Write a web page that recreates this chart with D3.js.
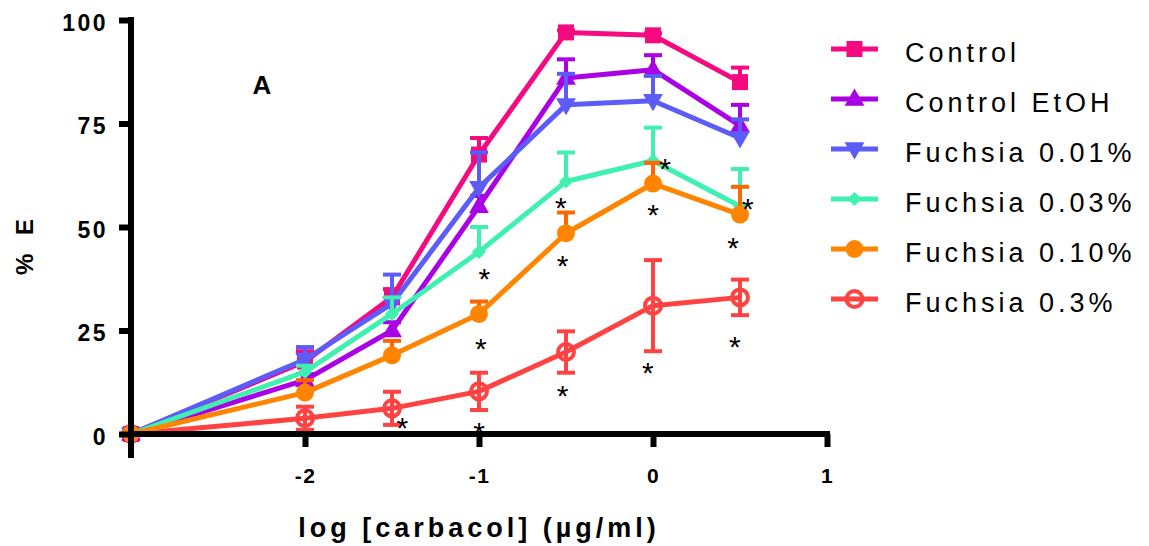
<!DOCTYPE html>
<html>
<head>
<meta charset="utf-8">
<title>Carbacol response</title>
<script src="https://cdn.jsdelivr.net/npm/d3@7"></script>
<style>
  body { margin: 0; background: #fff; }
  svg text { font-family: "Liberation Sans", Arial, sans-serif; }
</style>
</head>
<body>
<div id="chart"></div>
<script>
// x values are log [carbacol]
var doses = [-3, -2, -1.5, -1, -0.5, 0, 0.5];

var seriesNames = ["Control", "Control EtOH", "Fuchsia 0.01%", "Fuchsia 0.03%", "Fuchsia 0.10%", "Fuchsia 0.3%"];

var controlMean   = [0, 17.5, 33, 67.5, 97, 96.3, 85];
var controlErr    = [0, 2.5, 2, 4, 0.5, 0.5, 3.5];
var etohMean      = [0, 13, 25, 55, 86, 88, 74.5];
var etohErr       = [0, 1.5, 2, 2.5, 4.5, 3.5, 5];
var f001Mean      = [0, 18, 31.5, 59.5, 79.5, 80.5, 71.5];
var f001Err       = [0, 3, 7, 8.5, 7.5, 6, 4.5];
var f003Mean      = [0, 15, 29, 44, 61, 66, 55];
var f003Err       = [0, 1.5, 4, 6, 7, 8, 9];
var f010Mean      = [0, 10, 19, 29, 48.5, 60.5, 53];
var f010Err       = [0, 3, 3.5, 3, 5, 5, 6.7];
var f03Mean       = [0, 3.8, 6.2, 10.3, 19.8, 31, 33];
var f03Err        = [0, 2.8, 4, 4.5, 5, 11, 4.3];

var yTicks = [0, 25, 50, 75, 100];
var xTicks = [-2, -1, 0, 1];

// significance marks (x in log units, y in %E)
var starX = [-1.44, -1.0, -0.99, -0.97, -0.53, -0.52, -0.52, 0.07, 0.0, -0.03, 0.545, 0.46, 0.47];
var starY = [2.4, 1.3, 21.5, 38.4, 55.6, 41.5, 10.1, 65, 53.9, 15.7, 55.3, 46, 22];

var width = 1149, height = 546;

var x = d3.scaleLinear().domain([-3, 1]).range([131, 827]);
var y = d3.scaleLinear().domain([0, 100]).range([434, 20]);

var series = [
  { name: seriesNames[0], mean: controlMean, err: controlErr, color: "#f50a80", errColor: "#f50a80", shape: "square", both: false },
  { name: seriesNames[1], mean: etohMean, err: etohErr, color: "#aa00e6", errColor: "#aa00e6", shape: "up", both: false },
  { name: seriesNames[2], mean: f001Mean, err: f001Err, color: "#5c5cf8", errColor: "#5c5cf8", shape: "down", both: false },
  { name: seriesNames[3], mean: f003Mean, err: f003Err, color: "#40f0b0", errColor: "#40f0b0", shape: "diamond", both: false },
  { name: seriesNames[4], mean: f010Mean, err: f010Err, color: "#ff8500", errColor: "#ff6500", shape: "circle", both: false },
  { name: seriesNames[5], mean: f03Mean, err: f03Err, color: "#ff4343", errColor: "#ff4343", shape: "open", both: true }
];

var svg = d3.select("#chart").append("svg")
  .attr("width", width)
  .attr("height", height);

function drawMarker(g, shape, color) {
  if (shape == "square") {
    g.append("path").attr("d", d3.symbol(d3.symbolSquare, 256)()).attr("fill", color);
  } else if (shape == "up") {
    g.append("path").attr("d", d3.symbol(d3.symbolTriangle, 170)()).attr("fill", color)
      .attr("transform", "translate(0,1)");
  } else if (shape == "down") {
    g.append("path").attr("d", d3.symbol(d3.symbolTriangle, 170)()).attr("fill", color)
      .attr("transform", "translate(0,-1) rotate(180)");
  } else if (shape == "diamond") {
    g.append("path").attr("d", d3.symbol(d3.symbolSquare, 100)()).attr("fill", color)
      .attr("transform", "rotate(45)");
  } else if (shape == "circle") {
    g.append("circle").attr("r", 9).attr("fill", color);
  } else {
    g.append("circle").attr("r", 8).attr("fill", "none").attr("stroke", color).attr("stroke-width", 4);
  }
}

var line = d3.line()
  .x(function(d) { return x(d[0]); })
  .y(function(d) { return y(d[1]); });

// draw the 0.3% set first so the other markers sit over it at the origin
var order = [5, 0, 1, 2, 3, 4];
order.forEach(function(i) {
  var s = series[i];
  var pts = doses.map(function(d, k) { return [d, s.mean[k], s.err[k]]; });
  var g = svg.append("g").attr("class", "series");

  // error bars
  var eb = g.selectAll(".err").data(pts.filter(function(p) { return p[2] > 0; }))
    .enter().append("g").attr("class", "err")
    .attr("stroke", s.errColor).attr("stroke-width", 4).attr("fill", "none");
  eb.append("line")
    .attr("x1", function(p) { return x(p[0]); }).attr("x2", function(p) { return x(p[0]); })
    .attr("y1", function(p) { return s.both ? y(p[1] - p[2]) : y(p[1]); })
    .attr("y2", function(p) { return y(p[1] + p[2]); });
  eb.append("line")
    .attr("x1", function(p) { return x(p[0]) - 9; }).attr("x2", function(p) { return x(p[0]) + 9; })
    .attr("y1", function(p) { return y(p[1] + p[2]); }).attr("y2", function(p) { return y(p[1] + p[2]); });
  if (s.both) {
    eb.append("line")
      .attr("x1", function(p) { return x(p[0]) - 9; }).attr("x2", function(p) { return x(p[0]) + 9; })
      .attr("y1", function(p) { return y(p[1] - p[2]); }).attr("y2", function(p) { return y(p[1] - p[2]); });
  }

  g.append("path").datum(pts)
    .attr("d", line)
    .attr("fill", "none")
    .attr("stroke", s.color)
    .attr("stroke-width", 5)
    .attr("stroke-linejoin", "round");

  pts.forEach(function(p) {
    var m = g.append("g").attr("transform", "translate(" + x(p[0]) + "," + y(p[1]) + ")");
    drawMarker(m, s.shape, s.color);
  });
});

// axes
var yAxis = d3.axisLeft(y).tickValues(yTicks).tickSize(12).tickSizeOuter(0).tickPadding(11);
var yg = svg.append("g").attr("transform", "translate(131,0)").call(yAxis);
yg.select(".domain").remove();
yg.selectAll(".tick line").attr("stroke", "#000").attr("stroke-width", 6);
yg.selectAll(".tick text")
  .attr("dy", 10)
  .style("font-size", "23px").style("font-weight", "bold").style("letter-spacing", "2.5px")
  .attr("fill", "#000");

var xAxis = d3.axisBottom(x).tickValues(xTicks).tickSize(13).tickSizeOuter(0)
  .tickFormat(function(d) { return String(d); });
var xg = svg.append("g").attr("transform", "translate(0,434)").call(xAxis);
xg.select(".domain").remove();
xg.selectAll(".tick line").attr("stroke", "#000").attr("stroke-width", 6);
xg.selectAll(".tick text")
  .attr("y", 49).attr("dy", 0).attr("dx", 0)
  .style("font-size", "21px").style("font-weight", "bold").style("letter-spacing", "1.5px")
  .attr("fill", "#000");

svg.append("line").attr("x1", 131).attr("x2", 131).attr("y1", 17).attr("y2", 458)
  .attr("stroke", "#000").attr("stroke-width", 6);
svg.append("line").attr("x1", 131).attr("x2", 830).attr("y1", 434).attr("y2", 434)
  .attr("stroke", "#000").attr("stroke-width", 6);

// stars
svg.selectAll(".star").data(starX.map(function(v, i) { return [v, starY[i]]; }))
  .enter().append("text").attr("class", "star")
  .attr("x", function(d) { return x(d[0]); })
  .attr("y", function(d) { return y(d[1]) + 14; })
  .attr("text-anchor", "middle")
  .style("font-size", "30px")
  .attr("fill", "#000")
  .text("*");

// panel label
svg.append("text").attr("x", 262).attr("y", 94).attr("text-anchor", "middle")
  .style("font-size", "26px").style("font-weight", "bold").text("A");

// axis titles
svg.append("text").attr("x", 479).attr("y", 537).attr("text-anchor", "middle")
  .style("font-size", "27px").style("font-weight", "bold").style("letter-spacing", "4px")
  .text("log [carbacol] (µg/ml)");

svg.append("text").attr("transform", "translate(33,244) rotate(-90)").attr("text-anchor", "middle")
  .style("font-size", "24px").style("font-weight", "bold").style("letter-spacing", "6px")
  .text("% E");

// legend
var legend = svg.append("g").attr("class", "legend");
series.forEach(function(s, i) {
  var ly = 49 + i * 50;
  legend.append("line").attr("x1", 831).attr("x2", 878).attr("y1", ly).attr("y2", ly)
    .attr("stroke", s.color).attr("stroke-width", 5);
  var m = legend.append("g").attr("transform", "translate(854.5," + ly + ")");
  drawMarker(m, s.shape, s.color);
  legend.append("text").attr("x", 905).attr("y", ly + 13)
    .style("font-size", "27px").style("letter-spacing", "4px")
    .attr("fill", "#000")
    .text(s.name);
});
</script>
</body>
</html>
